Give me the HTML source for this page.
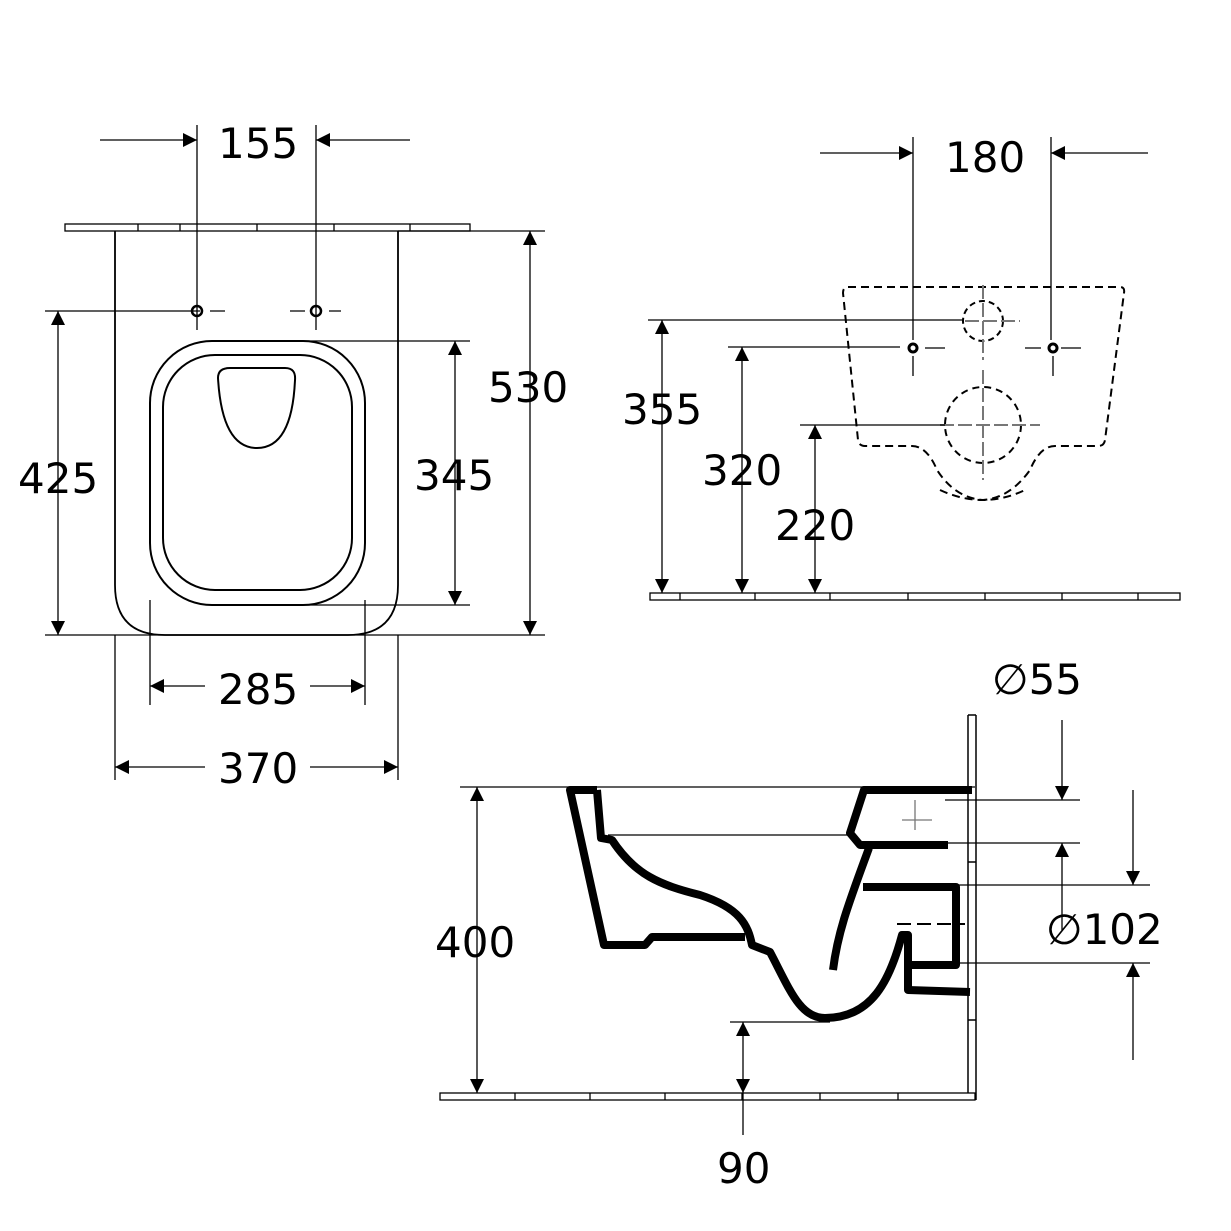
<!DOCTYPE html>
<html><head><meta charset="utf-8"><style>html,body{margin:0;padding:0;background:#fff}svg{display:block}text{font-family:"DejaVu Sans","Liberation Sans",sans-serif;font-size:42px;fill:#000}</style></head><body>
<svg width="1231" height="1231" viewBox="0 0 1231 1231" xmlns="http://www.w3.org/2000/svg">
<defs><marker id="a" viewBox="0 0 10 10" refX="10" refY="5" markerWidth="28" markerHeight="14" markerUnits="userSpaceOnUse" orient="auto-start-reverse"><path d="M0,0 L10,5 L0,10z" fill="#000"/></marker></defs>
<g stroke="#000" fill="none" stroke-width="1.3">
<rect x="65" y="224" width="405" height="7" fill="#fff"/>
<path d="M138,224v7M180,224v7M257,224v7M334,224v7M410,224v7"/>
<path d="M115,231 L115,585 Q115,635 165,635 L348,635 Q398,635 398,585 L398,231" stroke-width="1.8"/>
<rect x="150" y="341" width="215" height="264" rx="62" stroke-width="2"/>
<rect x="163" y="355" width="189" height="235" rx="52" stroke-width="2"/>
<path d="M218,378 Q218,368 230,368 L285,368 Q296,368 295,380 Q292,448 257,448 Q222,448 218,378Z" stroke-width="2"/>
<circle cx="197" cy="311" r="5" stroke-width="2.5"/><circle cx="316" cy="311" r="5" stroke-width="2.5"/>
<path d="M210,311h15M290,311h15M329,311h12"/>
<path d="M100,140 H197" marker-end="url(#a)"/><path d="M410,140 H316" marker-end="url(#a)"/>
<path d="M197,125V330M316,125V330"/>
<path d="M45,311H200M45,635H545M300,341H470M300,605H470M398,231H545"/>
<path d="M58,311V635" marker-start="url(#a)" marker-end="url(#a)"/>
<path d="M455,341V605" marker-start="url(#a)" marker-end="url(#a)"/>
<path d="M530,231V635" marker-start="url(#a)" marker-end="url(#a)"/>
<path d="M150,600V705M365,600V705M115,635V780M398,635V780"/>
<path d="M205,686H150" marker-end="url(#a)"/><path d="M310,686H365" marker-end="url(#a)"/>
<path d="M205,767H115" marker-end="url(#a)"/><path d="M310,767H398" marker-end="url(#a)"/>
<rect x="650" y="593" width="530" height="7" fill="#fff"/>
<path d="M680,593v7M755,593v7M830,593v7M908,593v7M985,593v7M1062,593v7M1138,593v7"/>
<path d="M848,287 L1120,287 Q1125,287 1124,293 L1105,440 Q1104,446 1098,446 L1055,446 Q1040,446 1030,470 Q1010,498 983,500 Q955,498 937,470 Q927,446 912,446 L865,446 Q859,446 858,440 L843,293 Q843,287 848,287Z" stroke-dasharray="8,5" stroke-width="2"/>
<path d="M940,490 Q983,510 1025,490" stroke-dasharray="8,5" stroke-width="2"/>
<circle cx="983" cy="321" r="20" stroke-dasharray="6,4" stroke-width="2"/>
<circle cx="983" cy="425" r="38" stroke-dasharray="7,5" stroke-width="2"/>
<path d="M983,285V360M983,370V480M940,425H1040M965,321H1020" stroke="#777" stroke-width="2" stroke-dasharray="14,4"/>
<circle cx="913" cy="348" r="4" stroke-width="3"/><circle cx="1053" cy="348" r="4" stroke-width="3"/>
<path d="M913,137V340M1051,137V340M913,356v20M1053,356v20M925,348h20M1025,348h16M1061,348h20"/>
<path d="M648,320H963M728,347H900M800,425H945"/>
<path d="M820,153H913" marker-end="url(#a)"/><path d="M1148,153H1051" marker-end="url(#a)"/>
<path d="M662,320V593" marker-start="url(#a)" marker-end="url(#a)"/>
<path d="M742,347V593" marker-start="url(#a)" marker-end="url(#a)"/>
<path d="M815,425V593" marker-start="url(#a)" marker-end="url(#a)"/>
<path d="M968,715V1100M976,715V1100M968,715H976M968,862H976M968,1020H976" stroke-width="1.5"/>
<rect x="440" y="1093" width="535" height="7" fill="#fff"/>
<path d="M515,1093v7M590,1093v7M665,1093v7M742,1093v7M820,1093v7M898,1093v7"/>
<path d="M460,787H975M608,835H850M945,800H1080M945,843H1080M945,885H1150M945,963H1150M730,1022H830"/>
<path d="M477,787V1093" marker-start="url(#a)" marker-end="url(#a)"/>
<path d="M743,1022V1093" marker-start="url(#a)" marker-end="url(#a)"/>
<path d="M743,1093V1135"/>
<path d="M1062,720V800" marker-end="url(#a)"/><path d="M1062,930V843" marker-end="url(#a)"/>
<path d="M1133,790V885" marker-end="url(#a)"/><path d="M1133,1060V963" marker-end="url(#a)"/>
<path d="M915,800v30M902,820h30" stroke="#777"/>
<path d="M897,924H965" stroke-dasharray="14,6" stroke-width="2"/>
</g>
<g stroke="#000" fill="none" stroke-width="8" stroke-linejoin="round">
<path d="M597,790 L570,790 L604,945 L645,945 L652,937 L745,937 M597,790 L601,838 L612,840 C635,875 660,885 700,895 C740,908 748,925 752,945 L770,952 C790,990 800,1018 825,1018 C872,1018 890,980 902,935 L908,935 L908,990 L970,992"/>
<path d="M972,790 L864,790 L850,833 L860,845 L948,845"/>
<path d="M869,848 C850,900 838,930 833,970"/>
<path d="M863,887 L956,887 L956,965 L910,965"/>
</g>
<text x="218" y="158">155</text>
<text x="945" y="172">180</text>
<text x="18" y="493">425</text>
<text x="414" y="490">345</text>
<text x="488" y="402">530</text>
<text x="218" y="704">285</text>
<text x="218" y="783">370</text>
<text x="622" y="424">355</text>
<text x="702" y="485">320</text>
<text x="775" y="540">220</text>
<text x="435" y="957">400</text>
<text x="717" y="1183">90</text>
<text x="992" y="694">∅55</text>
<text x="1046" y="944">∅102</text>
</svg>
</body></html>
